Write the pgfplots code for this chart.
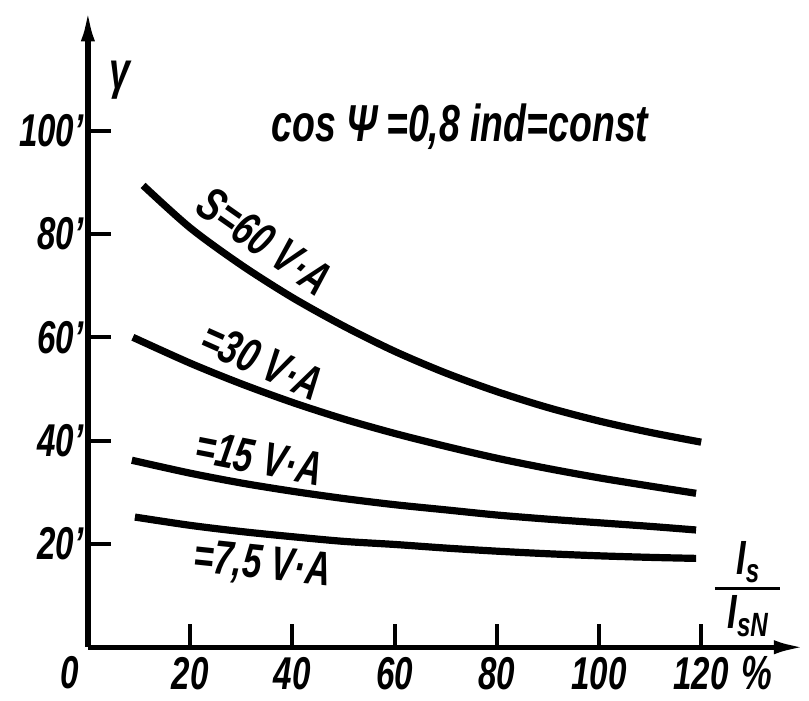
\documentclass[border=0pt]{standalone}
\usepackage{fontspec}
\setmainfont{Liberation Sans}[FakeStretch=0.72]
\usepackage{pgfplots}
\pgfplotsset{compat=1.18}
\usetikzlibrary{arrows.meta}

\begin{document}
\begin{tikzpicture}
\begin{axis}[
    x=2.555pt, y=2.5825pt,
    xmin=0, xmax=140.5, ymin=0, ymax=123.5,
    axis lines=left,
    axis line style={line width=2.6pt, -{Latex[length=16pt,width=7pt]}},
    clip=false,
    xtick={20,40,...,120},
    ytick={20,40,...,100},
    yticklabels={20',40',60',80',100'},
    tick align=inside,
    major tick length=11.5pt,
    tick style={line width=2pt, black},
    /pgf/number format/assume math mode=true,
    tick label style={font=\fontsize{23}{23}\selectfont\bfseries\itshape},
    xticklabel style={inner sep=5pt},
    yticklabel style={inner sep=2pt},
]
\addplot[line width=3.6pt, smooth] coordinates {
    (10.8,89.4) (20,81.2) (30,74.0) (40,67.7) (50,62.2) (60,57.3) (70,53.1)
    (80,49.5) (90,46.4) (100,43.8) (110,41.6) (120,39.7)
};
\addplot[line width=3.6pt, smooth] coordinates {
    (8.8,60.0) (20,55.0) (30,51.0) (40,47.4) (50,44.2) (60,41.4) (70,38.9)
    (80,36.6) (90,34.6) (100,32.8) (110,31.2) (119,29.8)
};
\addplot[line width=3.6pt, smooth] coordinates {
    (8.6,36.2) (20,33.7) (30,31.8) (40,30.2) (50,28.8) (60,27.6) (70,26.6)
    (80,25.6) (90,24.8) (100,24.1) (110,23.4) (119,22.7)
};
\addplot[line width=3.6pt, smooth] coordinates {
    (9.2,25.2) (20,23.6) (30,22.4) (40,21.4) (50,20.5) (60,19.9) (70,19.2)
    (80,18.6) (90,18.1) (100,17.7) (110,17.4) (119,17.2)
};

% titles and labels
\node[font=\fontsize{26}{26}\selectfont\bfseries\itshape] at (axis cs:72.8,100.7) {cos Ψ\,=0,8 ind=const};
\node[font=\fontsize{26}{26}\selectfont\bfseries\itshape] at (axis cs:6.3,109.8) {γ};
\node[font=\fontsize{24}{24}\selectfont\bfseries\itshape, rotate=-35] at (axis cs:34.6,78.6) {S=60 V·A};
\node[font=\fontsize{24}{24}\selectfont\bfseries\itshape, rotate=-24] at (axis cs:34.1,55.4) {=30 V·A};
\node[font=\fontsize{24}{24}\selectfont\bfseries\itshape, rotate=-11] at (axis cs:33.5,36.6) {=15 V·A};
\node[font=\fontsize{24}{24}\selectfont\bfseries\itshape, rotate=-6] at (axis cs:34.1,15.7) {=7,5 V·A};

\node[font=\fontsize{23}{23}\selectfont\bfseries\itshape] at (axis cs:-3.6,-5.0) {0};
\node[font=\fontsize{24}{24}\selectfont\bfseries\itshape] at (axis cs:130.9,-5.0) {\%};
\node[font=\fontsize{24}{24}\selectfont\bfseries\itshape, anchor=base] at (axis cs:129.2,14.0) {I\textsubscript{s}};
\draw[line width=1.6pt] (axis cs:122.7,11.4) -- (axis cs:135.4,11.4);
\node[font=\fontsize{24}{24}\selectfont\bfseries\itshape, anchor=base] at (axis cs:129.2,3.6) {I\textsubscript{sN}};

% page extent
\path (axis cs:-17.2,-9.9) rectangle (axis cs:141.1,125.3);
\end{axis}
\end{tikzpicture}
\end{document}
